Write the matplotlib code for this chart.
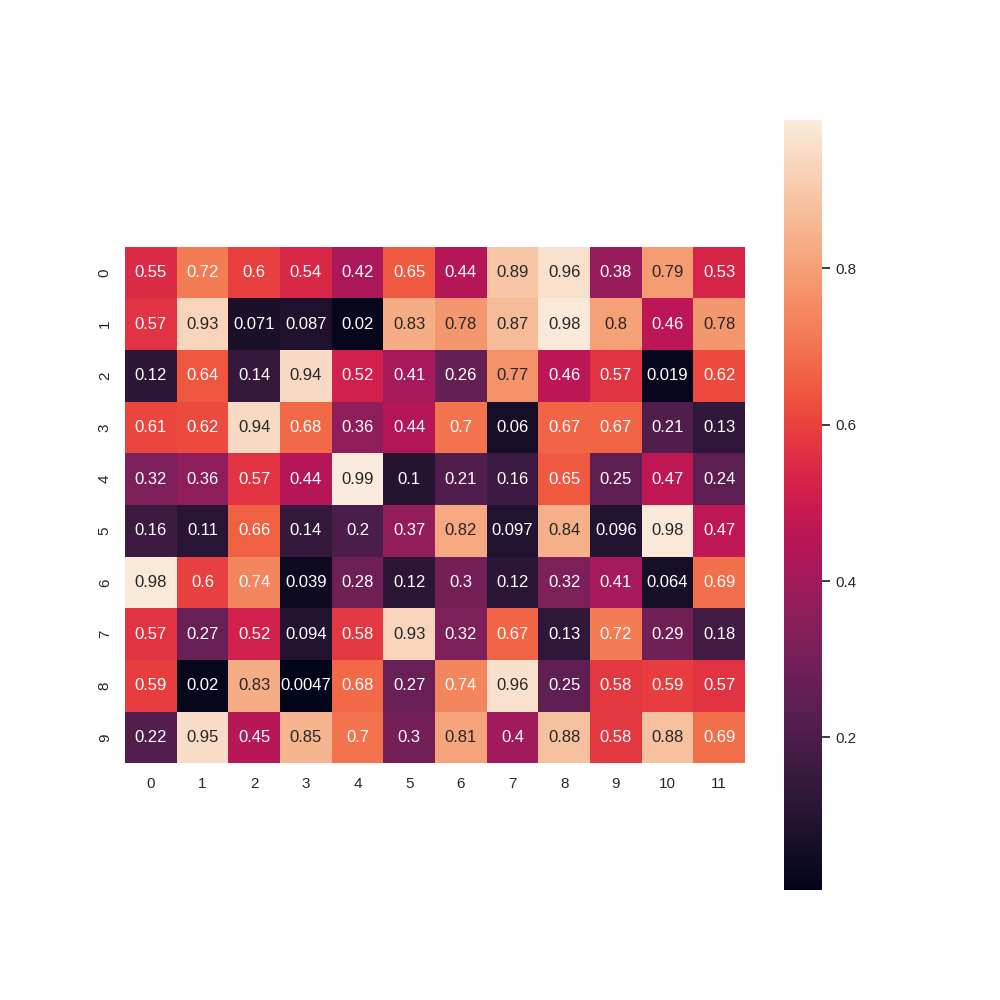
import numpy as np
import matplotlib
matplotlib.use("Agg")
import matplotlib.pyplot as plt
import seaborn as sns

# cell values as shown in the annotations (10 rows x 12 columns)
row_0 = [0.55, 0.72, 0.6, 0.54, 0.42, 0.65, 0.44, 0.89, 0.96, 0.38, 0.79, 0.53]
row_1 = [0.57, 0.93, 0.071, 0.087, 0.02, 0.83, 0.78, 0.87, 0.98, 0.8, 0.46, 0.78]
row_2 = [0.12, 0.64, 0.14, 0.94, 0.52, 0.41, 0.26, 0.77, 0.46, 0.57, 0.019, 0.62]
row_3 = [0.61, 0.62, 0.94, 0.68, 0.36, 0.44, 0.7, 0.06, 0.67, 0.67, 0.21, 0.13]
row_4 = [0.32, 0.36, 0.57, 0.44, 0.99, 0.1, 0.21, 0.16, 0.65, 0.25, 0.47, 0.24]
row_5 = [0.16, 0.11, 0.66, 0.14, 0.2, 0.37, 0.82, 0.097, 0.84, 0.096, 0.98, 0.47]
row_6 = [0.98, 0.6, 0.74, 0.039, 0.28, 0.12, 0.3, 0.12, 0.32, 0.41, 0.064, 0.69]
row_7 = [0.57, 0.27, 0.52, 0.094, 0.58, 0.93, 0.32, 0.67, 0.13, 0.72, 0.29, 0.18]
row_8 = [0.59, 0.02, 0.83, 0.0047, 0.68, 0.27, 0.74, 0.96, 0.25, 0.58, 0.59, 0.57]
row_9 = [0.22, 0.95, 0.45, 0.85, 0.7, 0.3, 0.81, 0.4, 0.88, 0.58, 0.88, 0.69]

data = np.array([row_0, row_1, row_2, row_3, row_4,
                 row_5, row_6, row_7, row_8, row_9])

sns.set_theme(style="white")
plt.rcParams['font.family'] = ['Arial', 'Liberation Sans', 'DejaVu Sans']

fig, ax = plt.subplots(figsize=(10, 10), dpi=100)
sns.heatmap(data, annot=True, square=True, ax=ax)

fig.savefig("out.png")
